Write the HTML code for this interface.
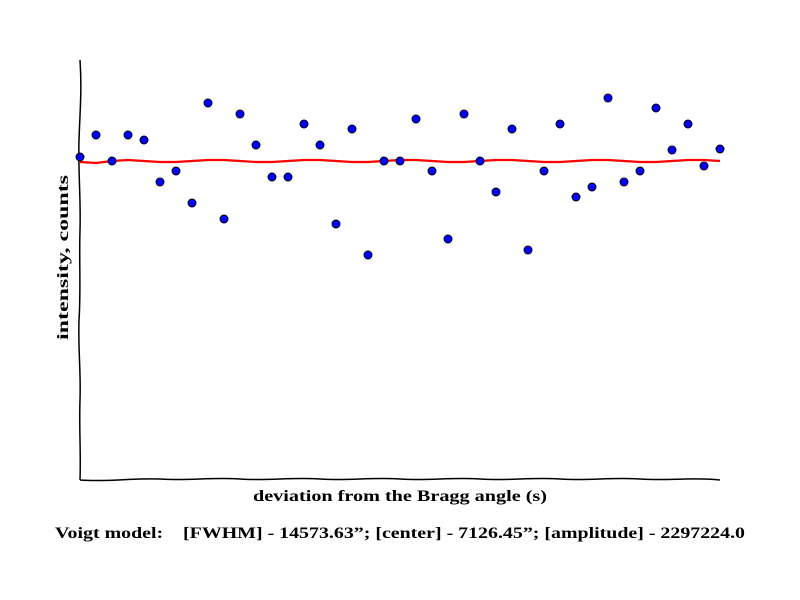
<!DOCTYPE html>
<html><head><meta charset="utf-8"><style>
body{margin:0;background:#fff;}
svg{display:block;font-family:"Liberation Serif",serif;font-weight:bold;}
</style></head><body>
<svg id="chart" width="800" height="600" viewBox="0 0 800 600">
<rect width="800" height="600" fill="#fff"/>
<path d="M80,60 C82,90 80,110 79,140 C78,170 81,200 80,230 C79,260 81,290 79,320 C78,350 81,370 80,400 C79,430 81,450 80,480" fill="none" stroke="#000" stroke-width="1.5"/>
<path d="M80,480 C110,482 130,478 160,479 C190,481 210,477 240,479 C270,481 290,477 320,479 C350,481 370,477 400,479 C430,481 450,477 480,479 C510,481 530,477 560,479 C590,481 610,477 640,479 C670,481 690,477 720,480" fill="none" stroke="#000" stroke-width="1.5"/>
<g id="fit"></g>
<g id="pts"></g>
<text x="253" y="501" font-size="16" textLength="294" lengthAdjust="spacingAndGlyphs">deviation from the Bragg angle (s)</text>
<text x="68" y="340" font-size="16" textLength="165" lengthAdjust="spacingAndGlyphs" transform="rotate(-90 68 340)">intensity, counts</text>
<text x="55" y="538" font-size="16" textLength="690" lengthAdjust="spacingAndGlyphs" xml:space="preserve" style="white-space:pre">Voigt model:    [FWHM] - 14573.63”; [center] - 7126.45”; [amplitude] - 2297224.0</text>
</svg>
<script>
const xValues=[0,1,2,3,4,5,6,7,8,9,10,11,12,13,14,15,16,17,18,19,20,21,22,23,24,25,26,27,28,29,30,31,32,33,34,35,36,37,38,39,40];
const intensity=[323,345,319,345,340,298,309,277,377,261,366,335,303,303,356,335,256,351,225,319,319,361,309,241,366,319,288,351,230,309,356,283,293,382,298,309,372,330,356,314,331];
const fitValues=[318,317,319,320,319,318,318,319,320,320,319,318,318,319,320,320,319,318,318,319,320,320,319,318,318,319,320,320,319,318,318,319,320,320,319,318,318,319,320,320,319];
const NS='http://www.w3.org/2000/svg';
const xs=v=>80+v*16;
const ys=v=>480-v;
const fg=document.getElementById('fit');
let d='';
xValues.forEach((x,i)=>{d+=(i?'L':'M')+xs(x)+','+ys(fitValues[i]);});
const p=document.createElementNS(NS,'path');
p.setAttribute('d',d);p.setAttribute('fill','none');p.setAttribute('stroke','#ff0000');p.setAttribute('stroke-width','2.2');


fg.appendChild(p);
const pg=document.getElementById('pts');
xValues.forEach((x,i)=>{
 const c=document.createElementNS(NS,'circle');
 c.setAttribute('cx',xs(x));c.setAttribute('cy',ys(intensity[i]));c.setAttribute('r','4');
 c.setAttribute('fill','#0000ff');c.setAttribute('stroke','#000');c.setAttribute('stroke-width','1');
 
 
 pg.appendChild(c);
});
</script>
</body></html>
